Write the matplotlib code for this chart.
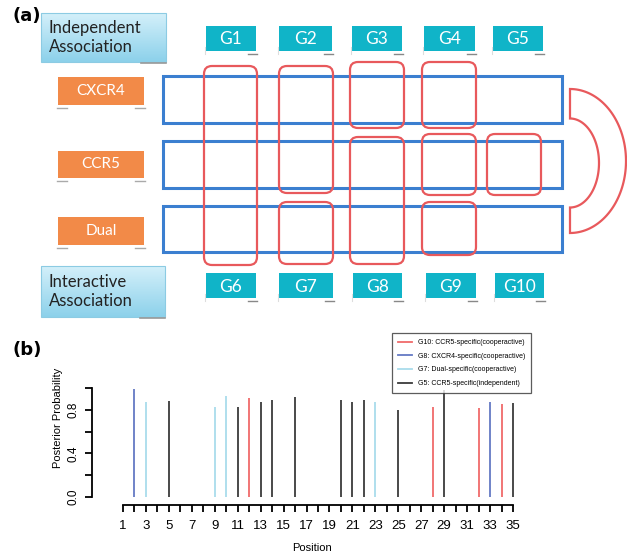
import numpy as np
import matplotlib
matplotlib.use("Agg")
import matplotlib.pyplot as plt
from matplotlib.patches import Rectangle, FancyBboxPatch, PathPatch
from matplotlib.path import Path
from matplotlib.lines import Line2D

# ---- panel (b) data ----
positions = [2, 3, 5, 9, 10, 11, 12, 13, 14, 16, 20, 21, 22, 23, 25, 28, 29, 32, 33, 34, 35]
probs = [0.99, 0.875, 0.88, 0.83, 0.925, 0.83, 0.91, 0.87, 0.89, 0.92, 0.89, 0.87,
         0.89, 0.87, 0.80, 0.83, 0.98, 0.82, 0.87, 0.85, 0.86]
groups = ["G8", "G7", "G5", "G7", "G7", "G5", "G10", "G5", "G5", "G5", "G5", "G5",
          "G5", "G7", "G5", "G10", "G5", "G10", "G8", "G10", "G5"]
legend_keys = ["G10", "G8", "G7", "G5"]
legend_labels = ["G10: CCR5-specific(cooperactive)", "G8: CXCR4-specific(cooperactive)",
                 "G7: Dual-specific(cooperactive)", "G5: CCR5-specific(independent)"]
group_colors = {"G10": "#f06a6a", "G8": "#6479c4", "G7": "#a9dcec", "G5": "#3a3a3a"}

# ---- panel (a) labels ----
receptors = ["CXCR4", "CCR5", "Dual"]
top_groups = ["G1", "G2", "G3", "G4", "G5"]
bottom_groups = ["G6", "G7", "G8", "G9", "G10"]

W, H = 627, 555
fig = plt.figure(figsize=(W / 100, H / 100), dpi=100)

# overlay axes in pixel coordinates for the diagram
ov = fig.add_axes([0, 0, 1, 1])
ov.set_xlim(0, W)
ov.set_ylim(H, 0)
ov.axis("off")

FONT = "Lato"

def gradient_box(x0, y0, x1, y1, text):
    grad = np.linspace(0, 1, 50)[:, None]
    top = np.array([0.83, 0.94, 0.98])
    bot = np.array([0.55, 0.82, 0.92])
    img = top + grad[..., None] * (bot - top)
    img = np.repeat(img, 2, axis=1)
    ov.imshow(img, extent=(x0, x1, y1, y0), aspect="auto", zorder=1)
    ov.add_patch(Rectangle((x0, y0), x1 - x0, y1 - y0, fill=False,
                           ec="#8ccbe3", lw=0.8, zorder=2))
    ov.plot([x1 - 25, x1], [y1 + 1, y1 + 1], color="#999999", lw=1.2, zorder=2)
    ov.text(x0 + 8, (y0 + y1) / 2, text, ha="left", va="center", fontsize=12,
            family=FONT, color="#222222", linespacing=1.2, zorder=3)

gradient_box(41, 13, 166, 62, "Independent\nAssociation")
gradient_box(41, 266, 165, 317, "Interactive\nAssociation")
ov.set_xlim(0, W)
ov.set_ylim(H, 0)

# orange receptor boxes
recep_y = [(77, 105), (151, 178), (217, 245)]
for name, (y0, y1) in zip(receptors, recep_y):
    ov.add_patch(Rectangle((58, y0), 86, y1 - y0, fc="#f28a48", ec="none", zorder=2))
    ov.plot([57, 67], [y1 + 3, y1 + 3], color="#aaaaaa", lw=1)
    ov.plot([135, 145], [y1 + 3, y1 + 3], color="#aaaaaa", lw=1)
    ov.text(101, (y0 + y1) / 2, name, ha="center", va="center", fontsize=11,
            family=FONT, color="white", zorder=3)

# blue rows
row_y = [(76, 123), (141, 188), (206, 252)]
for y0, y1 in row_y:
    ov.add_patch(Rectangle((163, y0), 562 - 163, y1 - y0, fill=False,
                           ec="#3b7fd0", lw=2.2, zorder=4))

# red rounded group outlines
red_boxes = [(204, 66, 257, 265), (279, 66, 333, 193), (279, 202, 333, 264),
             (350, 62, 404, 128), (350, 137, 404, 264), (422, 62, 476, 128),
             (422, 134, 476, 195), (422, 202, 476, 255), (487, 134, 541, 195)]
for x0, y0, x1, y1 in red_boxes:
    ov.add_patch(FancyBboxPatch((x0, y0), x1 - x0, y1 - y0,
                                boxstyle="round,pad=0,rounding_size=8",
                                fill=False, ec="#e8595c", lw=1.6, zorder=5))

# half annulus on the right
cx, cy = 570, 161
t = np.linspace(-np.pi / 2, np.pi / 2, 80)
outer = np.column_stack([cx + 56 * np.cos(t), cy + 72 * np.sin(t)])
inner = np.column_stack([cx + 29 * np.cos(t[::-1]), cy + 2 + 44.5 * np.sin(t[::-1])])
verts = np.vstack([outer, inner, outer[:1]])
codes = [Path.MOVETO] + [Path.LINETO] * (len(verts) - 2) + [Path.CLOSEPOLY]
ov.add_patch(PathPatch(Path(verts, codes), fill=False, ec="#e8595c", lw=1.6, zorder=5))

# teal group labels
top_x = [(206, 256), (279, 332), (352, 402), (424, 475), (493, 543)]
bot_x = [(206, 256), (279, 333), (353, 402), (426, 476), (495, 544)]
for names, xs, (y0, y1) in [(top_groups, top_x, (26, 51)), (bottom_groups, bot_x, (273, 298))]:
    for name, (x0, x1) in zip(names, xs):
        ov.add_patch(Rectangle((x0, y0), x1 - x0, y1 - y0, fc="#10b4c8", ec="none", zorder=2))
        ov.plot([x1 - 8, x1 + 1], [y1 + 3, y1 + 3], color="#888888", lw=1)
        ov.plot([x0 - 1, x0 - 1], [y1 - 4, y1 + 3], color="#dddddd", lw=0.8)
        ov.text((x0 + x1) / 2, (y0 + y1) / 2 + 1, name, ha="center", va="center",
                fontsize=12.5, family=FONT, color="white", zorder=3)

ov.text(12, 16, "(a)", fontsize=13, fontweight="bold", family="DejaVu Sans",
        ha="left", va="center")
ov.text(12, 350, "(b)", fontsize=13, fontweight="bold", family="DejaVu Sans",
        ha="left", va="center")

# ---- panel (b) stem chart ----
px_per_unit = 11.47
ax_l, ax_r, ax_t, ax_b = 92, 530, 380, 505
ax = fig.add_axes([ax_l / W, 1 - ax_b / H, (ax_r - ax_l) / W, (ax_b - ax_t) / H])
ax.set_xlim(1 - (123 - ax_l) / px_per_unit, 1 + (ax_r - 123) / px_per_unit)
ypx = 109.0
ax.set_ylim(-(ax_b - 497) / ypx, 1 + (497 - ax_t - ypx) / ypx)
ax.patch.set_alpha(0)

for p, v, g in zip(positions, probs, groups):
    ax.vlines(p, 0, v, color=group_colors[g], lw=1.3)

for s in ["top", "right"]:
    ax.spines[s].set_visible(False)
ax.spines["left"].set_bounds(0, 1)
ax.spines["bottom"].set_bounds(1, 35)
ax.spines["left"].set_linewidth(1.3)
ax.spines["bottom"].set_linewidth(1.3)

ax.set_yticks(np.arange(0, 1.01, 0.2))
ax.set_yticklabels(["0.0", "", "0.4", "", "0.8", ""], rotation=90, va="center",
                   fontsize=8.5, family="Liberation Sans")
xt = list(range(1, 36))
ax.set_xticks(xt)
ax.set_xticklabels([str(i) if i % 2 == 1 else "" for i in xt], fontsize=9.5,
                   family="Liberation Sans")
ax.tick_params(direction="out", length=5, width=1.3, pad=4)
ax.tick_params(axis="x", pad=6)

fig.text(58 / W, 1 - 418 / H, "Posterior Probability", rotation=90, ha="center",
         va="center", fontsize=8, family="Liberation Sans")
fig.text(312 / W, 1 - 548 / H, "Position", ha="center", va="center", fontsize=8,
         family="Liberation Sans")

handles = [Line2D([], [], color=group_colors[k], lw=1.3) for k in legend_keys]
leg = fig.legend(handles, legend_labels, loc="upper left",
                 bbox_to_anchor=(392 / W, 1 - 333 / H),
                 frameon=True, fancybox=False, edgecolor="#333333",
                 handlelength=2.0, handletextpad=0.8, borderpad=0.9, labelspacing=0.95,
                 borderaxespad=0,
                 prop={"family": "Liberation Sans", "size": 5.0})
leg.get_frame().set_linewidth(0.9)
leg.set_zorder(10)

fig.savefig("out.png", dpi=100)
